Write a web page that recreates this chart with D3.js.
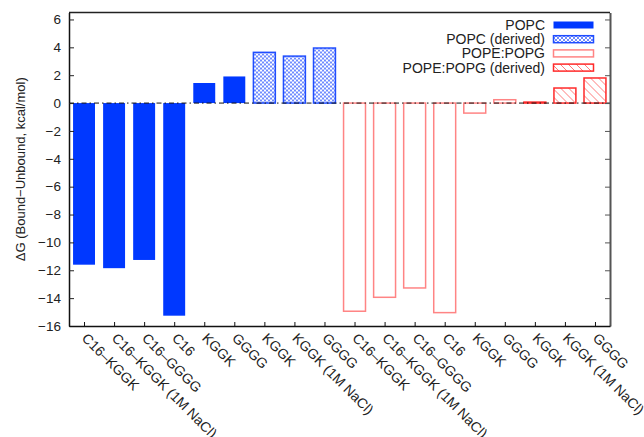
<!DOCTYPE html>
<html>
<head>
<meta charset="utf-8">
<script src="https://d3js.org/d3.v7.min.js"></script>
<style>
  html, body { margin: 0; padding: 0; background: #fff; }
  svg { display: block; font-family: "Liberation Sans", Arial, Helvetica, sans-serif; }
</style>
</head>
<body>
<svg id="chart" width="644" height="437"></svg>
<script>
// Binding free energies of peptides to two membrane compositions
const categories = [
  "C16–KGGK", "C16–KGGK (1M NaCl)", "C16–GGGG", "C16", "KGGK", "GGGG",
  "KGGK", "KGGK (1M NaCl)", "GGGG",
  "C16–KGGK", "C16–KGGK (1M NaCl)", "C16–GGGG", "C16", "KGGK", "GGGG",
  "KGGK", "KGGK (1M NaCl)", "GGGG"
];
const seriesNames = ["POPC", "POPC (derived)", "POPE:POPG", "POPE:POPG (derived)"];
const popc = [-11.6, -11.85, -11.26, -15.26, 1.44, 1.91];
const popcDerived = [3.64, 3.37, 3.95];
const popePopg = [-14.94, -13.94, -13.27, -15.04, -0.72, 0.24];
const popePopgDerived = [0.07, 1.08, 1.8];
const yTicks = [-16, -14, -12, -10, -8, -6, -4, -2, 0, 2, 4, 6];

// Series values laid out in category order
const seriesValues = [popc, popcDerived, popePopg, popePopgDerived];
const bars = [];
seriesValues.forEach((vals, s) => vals.forEach(v => bars.push({ s, v, i: bars.length })));

const W = 644, H = 437;
const margin = { top: 12.5, right: 34, bottom: 111, left: 69 };
const iw = W - margin.left - margin.right;
const ih = H - margin.top - margin.bottom;

const svg = d3.select("#chart");
const defs = svg.append("defs");

// cross-hatch fill for POPC (derived)
const cross = defs.append("pattern").attr("id", "crossBlue")
  .attr("patternUnits", "userSpaceOnUse").attr("width", 4).attr("height", 4);
cross.append("rect").attr("width", 4).attr("height", 4).attr("fill", "#fff");
cross.append("path").attr("d", "M0,0L4,4M4,0L0,4")
  .attr("stroke", "#4a6dff").attr("stroke-width", 0.8);

// diagonal hatch for POPE:POPG (derived)
const hatch = defs.append("pattern").attr("id", "hatchRed")
  .attr("patternUnits", "userSpaceOnUse").attr("width", 8).attr("height", 8);
hatch.append("rect").attr("width", 8).attr("height", 8).attr("fill", "#fff");
hatch.append("path").attr("d", "M0,0L8,8M-2,6L2,10M6,-2L10,2")
  .attr("stroke", "#ff7a7a").attr("stroke-width", 1);

const styles = [
  { fill: "#0038ff", stroke: "#0038ff", sw: 0 },
  { fill: "url(#crossBlue)", stroke: "#1f4dff", sw: 1.5 },
  { fill: "none", stroke: "#ff8484", sw: 1.5 },
  { fill: "url(#hatchRed)", stroke: "#ff2a2a", sw: 1.5 }
];

const x = d3.scaleLinear().domain([-0.5, categories.length - 0.5]).range([0, iw]);
const y = d3.scaleLinear().domain([-16, 6.5]).range([ih, 0]);
const barW = 0.73 * (x(1) - x(0));

const g = svg.append("g").attr("transform", `translate(${margin.left},${margin.top})`);

// bars
g.selectAll("rect.bar").data(bars).join("rect")
  .attr("class", "bar")
  .attr("x", d => x(d.i) - barW / 2)
  .attr("width", barW)
  .attr("y", d => y(Math.max(0, d.v)))
  .attr("height", d => Math.abs(y(d.v) - y(0)))
  .attr("fill", d => styles[d.s].fill)
  .attr("stroke", d => styles[d.s].sw ? styles[d.s].stroke : "none")
  .attr("stroke-width", d => styles[d.s].sw);

// zero line
g.append("line")
  .attr("x1", 0).attr("x2", iw).attr("y1", y(0)).attr("y2", y(0))
  .attr("stroke", "#111").attr("stroke-width", 1)
  .attr("stroke-dasharray", "5,3,1.5,3");

// left axis
const yAxis = d3.axisLeft(y).tickValues(yTicks).tickSizeInner(-5).tickSizeOuter(0).tickPadding(8);
const ya = g.append("g").call(yAxis);
ya.select(".domain").attr("stroke", "#111").attr("stroke-width", 1.5);
ya.selectAll(".tick line").attr("stroke", "#222").attr("stroke-width", 1);
ya.selectAll(".tick text").attr("font-size", 13.5).attr("fill", "#222");

// right axis (mirrored ticks)
const yAxisR = d3.axisRight(y).tickValues(yTicks).tickSizeInner(-5).tickSizeOuter(0).tickFormat("");
const yr = g.append("g").attr("transform", `translate(${iw},0)`).call(yAxisR);
yr.select(".domain").attr("stroke", "#555").attr("stroke-width", 2);
yr.selectAll(".tick line").attr("stroke", "#555").attr("stroke-width", 1);

// top border
g.append("line").attr("x1", 0).attr("x2", iw).attr("y1", 0).attr("y2", 0)
  .attr("stroke", "#222").attr("stroke-width", 1.5);

// bottom axis
const xAxis = d3.axisBottom(x).tickValues(d3.range(categories.length))
  .tickSizeInner(-4).tickSizeOuter(0).tickFormat("");
const xa = g.append("g").attr("transform", `translate(0,${ih})`).call(xAxis);
xa.select(".domain").attr("stroke", "#111").attr("stroke-width", 1.5);
xa.selectAll(".tick line").attr("stroke", "#111").attr("stroke-width", 1);

// rotated category labels
g.selectAll("text.cat").data(categories).join("text")
  .attr("class", "cat")
  .attr("transform", (d, i) => `translate(${x(i) - 3},${ih + 13}) rotate(45)`)
  .attr("font-size", 14).attr("fill", "#222")
  .attr("text-anchor", "start")
  .text(d => d);

// y-axis title
svg.append("text")
  .attr("transform", `translate(25,${margin.top + ih / 2}) rotate(-90)`)
  .attr("text-anchor", "middle")
  .attr("font-size", 13).attr("fill", "#222")
  .text("ΔG (Bound−Unbound, kcal/mol)");

// legend
const leg = svg.append("g");
seriesNames.forEach((name, k) => {
  const cy = 25 + k * 14.2;
  leg.append("text").attr("x", 545).attr("y", cy).attr("dy", "0.35em")
    .attr("text-anchor", "end").attr("font-size", 14).attr("fill", "#222").text(name);
  leg.append("rect").attr("x", 553.5).attr("y", cy - 3.5).attr("width", 40).attr("height", 7)
    .attr("fill", styles[k].fill)
    .attr("stroke", styles[k].sw ? styles[k].stroke : "none")
    .attr("stroke-width", styles[k].sw);
});
</script>
</body>
</html>
